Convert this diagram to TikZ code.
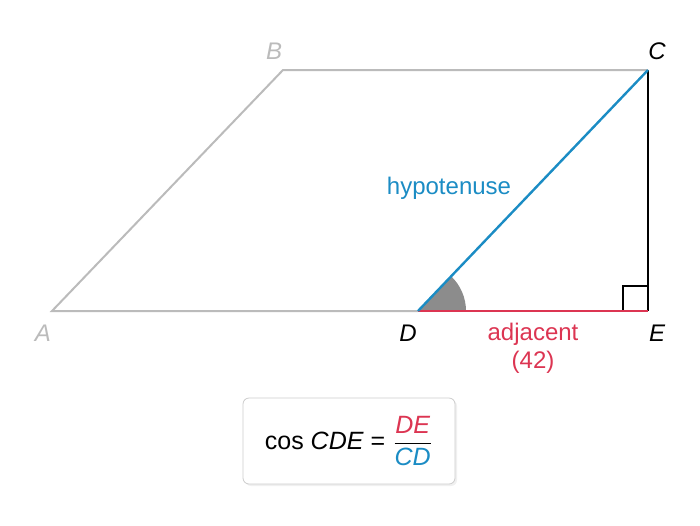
\documentclass[tikz,border=0pt]{standalone}
\usepackage{amsmath}
\usepackage{fontspec}
\setmainfont{Liberation Sans}
\usetikzlibrary{shadows}
\definecolor{hypblue}{HTML}{1B8CC4}
\definecolor{adjred}{HTML}{DC3552}
\definecolor{shapegray}{HTML}{BBBBBB}
\begin{document}
\begin{tikzpicture}[x=0.5pt,y=-0.5pt,font=\fontsize{12}{14}\selectfont,
	lbl/.style={inner sep=1pt}]
	\useasboundingbox (0,0) rectangle (700,525);
	\coordinate (A) at (52,311); \coordinate (B) at (283,70);
	\coordinate (C) at (648,70); \coordinate (D) at (418,311);
	\coordinate (E) at (648,311);
	% parallelogram
	\draw[shapegray, line width=1pt] (D) -- (A) -- (B) -- (C);
	% angle and right angle
	\fill[gray!90] (D) -- ++(48,0) arc[start angle=0, end angle=-46.3, radius=48] -- cycle;
	\draw[black, line width=0.6pt] (E) ++(-25,0) -- ++(0,-25) -- ++(25,0);
	\draw[black, line width=1pt] (C) -- (E);
	\draw[adjred, line width=1.2pt] (D) -- (E);
	\draw[hypblue, line width=1.2pt] (D) -- (C);
	% vertex labels
	\node[lbl, shapegray] (la) at (43,333) {\itshape A};
	\node[lbl, shapegray] (lb) at (274,51) {\itshape B};
	\node[lbl] (lc) at (657,51) {\itshape C};
	\node[lbl] (ld) at (408,333) {\itshape D};
	\node[lbl] (le) at (657,333) {\itshape E};
	\node[lbl, hypblue] (hyp) at (449,188) {hypotenuse};
	\node[lbl, adjred, align=center] (adj) at (533,348) {adjacent\\(42)};
	% formula box
	\node[draw=gray!40, rounded corners=3pt, fill=white,
		drop shadow={opacity=0.12, shadow xshift=1pt, shadow yshift=-1pt},
		minimum width=106pt, minimum height=43pt] (box) at (349,441)
		{\fontsize{12.5}{15}\selectfont cos \textit{CDE} = $\dfrac{\textcolor{adjred}{\textit{DE}}}{\textcolor{hypblue}{\textit{CD}}}$};
\end{tikzpicture}
\end{document}
